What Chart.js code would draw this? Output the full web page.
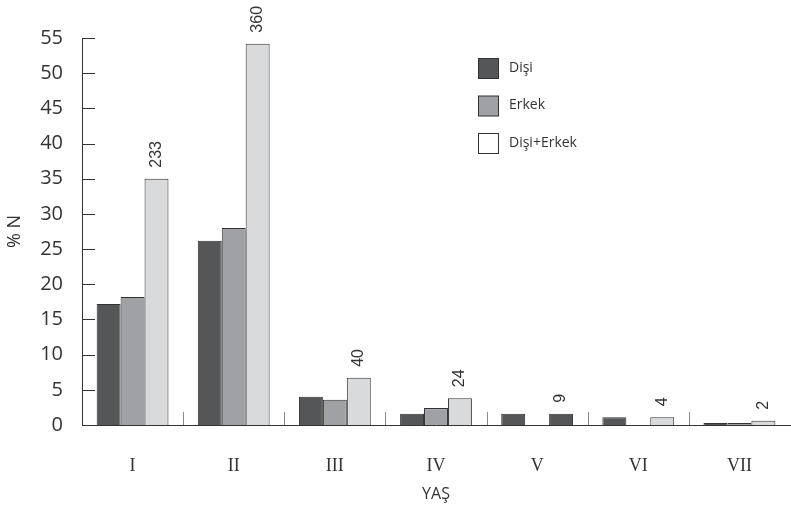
<!DOCTYPE html>
<html>
<head>
<meta charset="utf-8">
<script src="https://cdn.jsdelivr.net/npm/chart.js@4/dist/chart.umd.min.js"></script>
<style>
  html, body { margin: 0; padding: 0; background: #fff; }
</style>
</head>
<body>
<canvas id="chart" width="791" height="508"></canvas>
<script>
// yaş grupları
const categories = ["I", "II", "III", "IV", "V", "VI", "VII"];
const disi = [17.2, 26.2, 4.0, 1.6, 1.6, 1.1, 0.3];
const erkek = [18.2, 28.0, 3.6, 2.4, 0, 0, 0.3];
const toplam = [35.0, 54.2, 6.7, 3.8, 1.6, 1.1, 0.6];
const counts = ["233", "360", "40", "24", "9", "4", "2"];
const yTicks = [0, 5, 10, 15, 20, 25, 30, 35, 40, 45, 50, 55];

const DARK = "#555658";
const MID = "#a0a1a4";
const LIGHT = "#d9dadc";
const EDGE = "#333333";

// V grubunda toplam çubuğu koyu renkte
const toplamColors = categories.map((c) => (c === "V" ? DARK : LIGHT));

const extras = {
  id: "extras",
  afterDraw(chart) {
    const ctx = chart.ctx;
    const x = chart.scales.x;
    const y = chart.scales.y;
    const area = chart.chartArea;
    ctx.save();

    // y ekseni iç çentikler
    ctx.strokeStyle = EDGE;
    ctx.lineWidth = 1;
    yTicks.forEach((v) => {
      const py = Math.round(y.getPixelForValue(v)) + 0.5;
      ctx.beginPath();
      ctx.moveTo(area.left, py);
      ctx.lineTo(area.left + 13, py);
      ctx.stroke();
    });

    // kategori ayraçları
    ctx.strokeStyle = "#8a8a8a";
    for (let i = 0; i < categories.length - 1; i++) {
      const px = Math.round((x.getPixelForTick(i) + x.getPixelForTick(i + 1)) / 2) + 0.5;
      ctx.beginPath();
      ctx.moveTo(px, area.bottom);
      ctx.lineTo(px, area.bottom - 13);
      ctx.stroke();
    }

    // sayılar (dikey)
    const meta = chart.getDatasetMeta(2);
    ctx.fillStyle = "#333";
    ctx.font = "16px 'Liberation Sans', sans-serif";
    ctx.textAlign = "left";
    ctx.textBaseline = "middle";
    meta.data.forEach((bar, i) => {
      ctx.save();
      ctx.translate(bar.x, bar.y - 11);
      ctx.rotate(-Math.PI / 2);
      ctx.fillText(counts[i], 0, 0);
      ctx.restore();
    });

    // lejant
    const items = [
      { label: "Dişi", color: DARK },
      { label: "Erkek", color: MID },
      { label: "Dişi+Erkek", color: "#ffffff" },
    ];
    ctx.font = "14px 'Open Sans', sans-serif";
    items.forEach((it, i) => {
      const cy = 68 + i * 37.5;
      ctx.fillStyle = it.color;
      ctx.fillRect(478.5, cy - 9.5, 20, 20);
      ctx.strokeStyle = EDGE;
      ctx.strokeRect(478.5, cy - 9.5, 20, 20);
      ctx.fillStyle = "#333";
      ctx.fillText(it.label, 509, cy);
    });
    ctx.restore();
  },
};

new Chart(document.getElementById("chart"), {
  type: "bar",
  data: {
    labels: categories,
    datasets: [
      { label: "Dişi", data: disi, backgroundColor: DARK, borderColor: EDGE, borderWidth: 1 },
      { label: "Erkek", data: erkek, backgroundColor: MID, borderColor: EDGE, borderWidth: 1 },
      { label: "Dişi+Erkek", data: toplam, backgroundColor: toplamColors, borderColor: EDGE, borderWidth: 1 },
    ],
  },
  options: {
    responsive: false,
    animation: false,
    devicePixelRatio: 1,
    layout: { padding: { top: 38, right: 1, left: 0, bottom: 0 } },
    categoryPercentage: 0.71,
    barPercentage: 1.0,
    plugins: {
      legend: { display: false },
      tooltip: { enabled: false },
    },
    scales: {
      x: {
        grid: { display: false, drawTicks: false },
        border: { display: true, color: EDGE, width: 1 },
        ticks: {
          color: "#333",
          padding: 30,
          font: { family: "'Liberation Serif', serif", size: 18 },
        },
        title: {
          display: true,
          text: "YAŞ",
          color: "#333",
          font: { family: "'Open Sans', sans-serif", size: 16 },
          padding: { top: 4, bottom: 4 },
        },
        afterFit(scale) { scale.height = 83; },
      },
      y: {
        min: 0,
        max: 55,
        grid: { display: false, drawTicks: false },
        border: { display: true, color: EDGE, width: 1 },
        ticks: {
          stepSize: 5,
          color: "#333",
          padding: 19,
          font: { family: "'Open Sans', sans-serif", size: 20 },
        },
        title: {
          display: true,
          text: "% N",
          color: "#333",
          font: { family: "'Open Sans', sans-serif", size: 18 },
          padding: { top: 4, bottom: 4 },
        },
        afterFit(scale) { scale.width = 82; },
      },
    },
  },
  plugins: [extras],
});
</script>
</body>
</html>
